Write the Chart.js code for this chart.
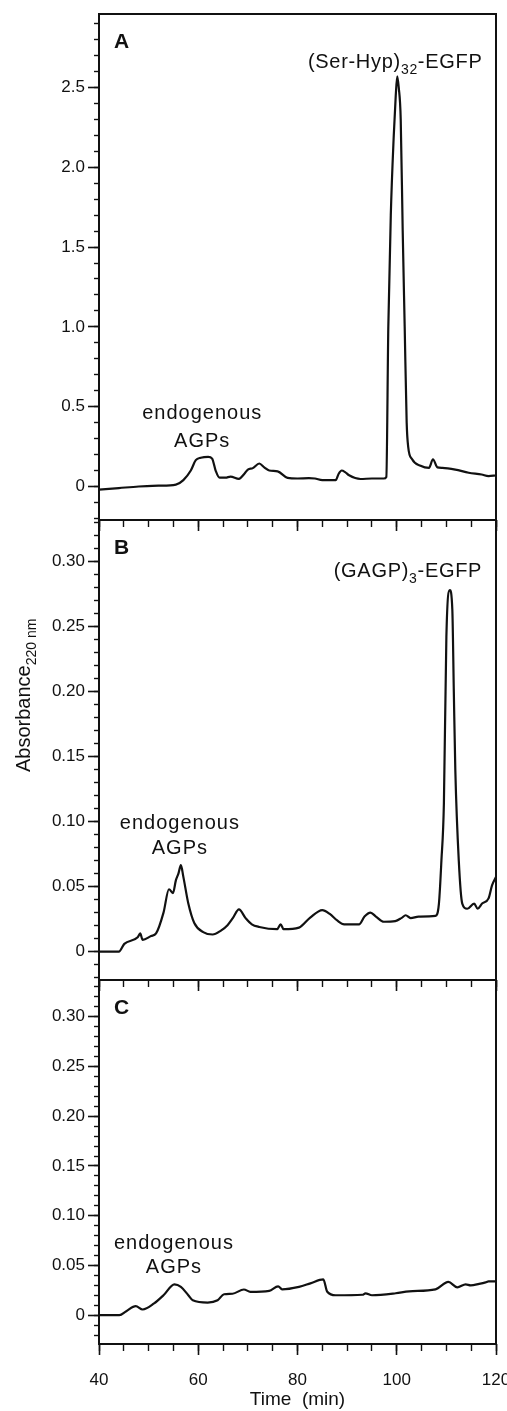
<!DOCTYPE html>
<html>
<head>
<meta charset="utf-8">
<script src="https://cdn.jsdelivr.net/npm/chart.js@4.4.1/dist/chart.umd.min.js"></script>
<style>
  html, body { margin: 0; padding: 0; background: #fff; }
  #wrap { position: relative; width: 507px; height: 1411px; overflow: hidden; background: #fff; }
  #wrap canvas { position: absolute; left: 0; top: 0; }
</style>
</head>
<body>
<div id="wrap">
  <canvas id="chartA" width="507" height="1411"></canvas>
  <canvas id="chartB" width="507" height="1411"></canvas>
  <canvas id="chartC" width="507" height="1411"></canvas>
</div>
<script>
// Chromatogram data (time in min, absorbance at 220 nm)

// A: (Ser-Hyp)32-EGFP
const timeA = [40, 44, 48, 52, 55.5, 57, 58.5, 59.5, 60.5, 62, 62.8, 63.5, 64.3, 65.5, 66.5, 68.2, 69.3, 70, 71, 72.3,
  73.3, 74.3, 76, 78, 80, 82.3, 83.5, 85, 87.7, 88.3, 88.9, 89.6, 90.4, 92.7, 95, 97.4, 97.9, 98.3, 98.8, 99.4,
  99.8, 100.1, 100.4, 100.8, 101.2, 101.6, 102, 102.3, 103.1, 104.8, 106.5, 107.3, 108.2, 109.2, 111.8, 114.5,
  117.1, 118.5, 120];
const absA = [-0.02, -0.01, 0, 0.005, 0.012, 0.04, 0.1, 0.165, 0.18, 0.186, 0.175, 0.1, 0.055, 0.055, 0.062, 0.048,
  0.08, 0.106, 0.115, 0.144, 0.12, 0.1, 0.095, 0.054, 0.05, 0.052, 0.05, 0.04, 0.04, 0.08, 0.1, 0.09, 0.07, 0.047,
  0.05, 0.05, 0.06, 1.0, 1.7, 2.2, 2.45, 2.57, 2.5, 2.3, 1.6, 1.0, 0.4, 0.25, 0.17, 0.13, 0.117, 0.17, 0.12, 0.117,
  0.106, 0.086, 0.075, 0.065, 0.07];

// B: (GAGP)3-EGFP
const timeB = [40, 44, 45.1, 47.8, 48.3, 48.8, 50.5, 51.5, 53, 54.1, 54.9, 55.5, 56, 56.5, 57, 58, 59.2, 61, 62.9,
  64.5, 65.9, 67, 68.2, 69.5, 70.8, 72.3, 75.9, 76.6, 77.2, 80.3, 82.5, 85, 86.5, 88, 89.4, 92.4, 93.5, 94.7, 95.8,
  97.4, 99.7, 101, 101.8, 102.8, 104.4, 107.8, 108.5, 109, 109.5, 110, 110.7, 111.2, 111.5, 111.8, 112.5, 113.2,
  114.2, 115.6, 116.3, 117.2, 118.5, 119.2, 120];
const absB = [0, 0, 0.006, 0.011, 0.014, 0.009, 0.012, 0.014, 0.03, 0.048, 0.045, 0.055, 0.06, 0.0665, 0.0575,
  0.037, 0.022, 0.015, 0.0132, 0.016, 0.0204, 0.026, 0.0325, 0.026, 0.021, 0.019, 0.0173, 0.021, 0.0173, 0.0185,
  0.026, 0.032, 0.029, 0.024, 0.021, 0.021, 0.027, 0.03, 0.027, 0.023, 0.0235, 0.026, 0.028, 0.0258, 0.027, 0.0275,
  0.037, 0.07, 0.114, 0.242, 0.278, 0.263, 0.2, 0.14, 0.07, 0.037, 0.033, 0.037, 0.033, 0.037, 0.041, 0.051, 0.0575];

// C: control
const timeC = [40, 44.1, 45.5, 47.4, 48.8, 51.1, 53, 55.2, 56.5, 58, 58.9, 61.9, 63.9, 65.2, 66.9, 69.2, 70.5, 74.3,
  76.1, 76.9, 80.3, 82.6, 85.2, 86, 87.7, 93.1, 93.7, 95, 99.8, 102.5, 107.8, 110.4, 112.2, 113.9, 114.9, 116.6,
  117.9, 118.5, 120];
const absC = [0, 0, 0.004, 0.009, 0.0057, 0.0118, 0.02, 0.031, 0.0285, 0.02, 0.015, 0.0127, 0.015, 0.021, 0.0215,
  0.0258, 0.0235, 0.0245, 0.029, 0.026, 0.0285, 0.032, 0.036, 0.0235, 0.02, 0.0205, 0.022, 0.02, 0.022, 0.024,
  0.026, 0.0335, 0.028, 0.031, 0.03, 0.0315, 0.033, 0.034, 0.034];

// tick labels
const xLabels = ['40', '60', '80', '100', '120'];
const yLabelsA = ['0', '0.5', '1.0', '1.5', '2.0', '2.5'];
const yLabelsBC = ['0', '0.05', '0.10', '0.15', '0.20', '0.25', '0.30'];

const FONT = "'Liberation Sans', Arial, Helvetica, sans-serif";
const INK = '#111';
const H = 1411;

// draw text pieces, some of them as subscripts
function drawRich(ctx, x, y, parts, size, align, spacing) {
  ctx.textBaseline = 'alphabetic';
  ctx.textAlign = 'left';
  ctx.letterSpacing = (spacing || 0) + 'px';
  let total = 0;
  parts.forEach(p => {
    ctx.font = (p.sub ? Math.round(size * 0.7) : size) + 'px ' + FONT;
    p.w = ctx.measureText(p.t).width;
    total += p.w;
  });
  let cx = align === 'center' ? x - total / 2 : x;
  parts.forEach(p => {
    ctx.font = (p.sub ? Math.round(size * 0.7) : size) + 'px ' + FONT;
    ctx.fillText(p.t, cx, p.sub ? y + size * 0.3 : y);
    cx += p.w;
  });
  ctx.letterSpacing = '0px';
}

function panelPlugin(letter, notes, extra) {
  return {
    id: 'panel' + letter,
    afterDraw(chart) {
      const {ctx, chartArea: a, scales} = chart;
      ctx.save();
      // frame
      ctx.strokeStyle = INK;
      ctx.lineWidth = 2;
      ctx.strokeRect(a.left, a.top, a.right - a.left, a.bottom - a.top);
      ctx.fillStyle = INK;
      // panel letter
      ctx.font = 'bold 21px ' + FONT;
      ctx.textBaseline = 'middle';
      ctx.textAlign = 'left';
      ctx.fillText(letter, a.left + 15, a.top + 28);
      // annotations, anchored in data units
      notes.forEach(n => {
        const px = scales.x.getPixelForValue(n.x);
        const py = scales.y.getPixelForValue(n.y);
        drawRich(ctx, px, py, n.parts, n.size || 20, n.align || 'center', n.spacing != null ? n.spacing : 1);
      });
      if (extra) extra(ctx);
      ctx.restore();
    }
  };
}

function noPad(s) {
  s.paddingLeft = 0;
  s.paddingRight = 0;
  s.paddingTop = 0;
  s.paddingBottom = 0;
}

function makeChart(id, times, values, o) {
  const majorY = o.yLabels.map(Number);
  const scales = {
    x: {
      type: 'linear', position: 'bottom', min: 40, max: 120, weight: 1,
      afterBuildTicks: s => { s.ticks = xLabels.map(l => ({value: Number(l)})); },
      ticks: {
        display: o.showX, autoSkip: false, maxRotation: 0, padding: 15, color: INK,
        font: {family: FONT, size: 17},
        callback: (v, i) => xLabels[i]
      },
      grid: {drawOnChartArea: false, tickLength: 11, tickColor: INK, tickWidth: 1.6},
      border: {display: false},
      title: o.showX ? {
        display: true, text: 'Time  (min)', color: INK,
        font: {family: FONT, size: 19}, padding: {top: 0, bottom: 0}
      } : {display: false},
      afterFit: s => { s.height = o.xHeight; noPad(s); }
    },
    xm: {
      type: 'linear', position: 'bottom', min: 40, max: 120, weight: 0,
      ticks: {display: false, stepSize: 5, autoSkip: false},
      grid: {drawOnChartArea: false, tickLength: 7, tickColor: INK, tickWidth: 1.4},
      border: {display: false},
      afterFit: s => { s.height = 0; noPad(s); }
    },
    y: {
      type: 'linear', position: 'left', min: o.yMin, max: o.yMax, weight: 1,
      afterBuildTicks: s => { s.ticks = majorY.map(v => ({value: v})); },
      ticks: {
        autoSkip: false, padding: 3, color: INK,
        font: {family: FONT, size: 17},
        callback: (v, i) => o.yLabels[i]
      },
      grid: {drawOnChartArea: false, tickLength: 11, tickColor: INK, tickWidth: 1.6},
      border: {display: false},
      afterFit: s => { s.width = 99; noPad(s); }
    },
    ym: {
      type: 'linear', position: 'left', min: o.yMin, max: o.yMax, weight: 0,
      ticks: {display: false, stepSize: o.minorStep, autoSkip: false, includeBounds: false},
      grid: {drawOnChartArea: false, tickLength: 5, tickColor: INK, tickWidth: 1.4},
      border: {display: false},
      afterFit: s => { s.width = 0; noPad(s); }
    }
  };

  return new Chart(document.getElementById(id), {
    type: 'line',
    data: {
      datasets: [{
        data: times.map((t, i) => ({x: t, y: values[i]})),
        xAxisID: 'x', yAxisID: 'y',
        borderColor: INK, borderWidth: 2.2,
        pointRadius: 0, fill: false,
        cubicInterpolationMode: 'monotone'
      }]
    },
    options: {
      responsive: false,
      animation: false,
      devicePixelRatio: 1,
      layout: {padding: {left: 0, right: 11, top: o.top, bottom: o.bottom}},
      plugins: {legend: {display: false}, tooltip: {enabled: false}},
      scales: scales
    },
    plugins: [panelPlugin(o.letter, o.notes, o.extra)]
  });
}

const endo = (x, y1, y2) => [
  {x: x, y: y1, parts: [{t: 'endogenous'}]},
  {x: x, y: y2, parts: [{t: 'AGPs'}]}
];

makeChart('chartA', timeA, absA, {
  letter: 'A', top: 14, bottom: H - 532, xHeight: 12, showX: false,
  yMin: -0.21, yMax: 2.96, minorStep: 0.1, yLabels: yLabelsA,
  notes: endo(60.8, 0.42, 0.25).concat([
    {x: 82.1, y: 2.62, align: 'left', spacing: 0.7,
     parts: [{t: '(Ser-Hyp)'}, {t: '32', sub: true}, {t: '-EGFP'}]}
  ])
});

makeChart('chartB', timeB, absB, {
  letter: 'B', top: 520, bottom: H - 992, xHeight: 12, showX: false,
  yMin: -0.0218, yMax: 0.332, minorStep: 0.01, yLabels: yLabelsBC,
  notes: endo(56.3, 0.094, 0.075).concat([
    {x: 87.3, y: 0.288, align: 'left', spacing: 0.7,
     parts: [{t: '(GAGP)'}, {t: '3', sub: true}, {t: '-EGFP'}]}
  ]),
  extra: ctx => {
    // shared y-axis title, Absorbance at 220 nm
    ctx.save();
    ctx.translate(30, 772);
    ctx.rotate(-Math.PI / 2);
    drawRich(ctx, 0, 0, [{t: 'Absorbance'}, {t: '220 nm', sub: true}], 20, 'left', 0);
    ctx.restore();
  }
});

makeChart('chartC', timeC, absC, {
  letter: 'C', top: 980, bottom: 0, xHeight: 67, showX: true,
  yMin: -0.029, yMax: 0.337, minorStep: 0.01, yLabels: yLabelsBC,
  notes: endo(55.1, 0.067, 0.042)
});
</script>
</body>
</html>
